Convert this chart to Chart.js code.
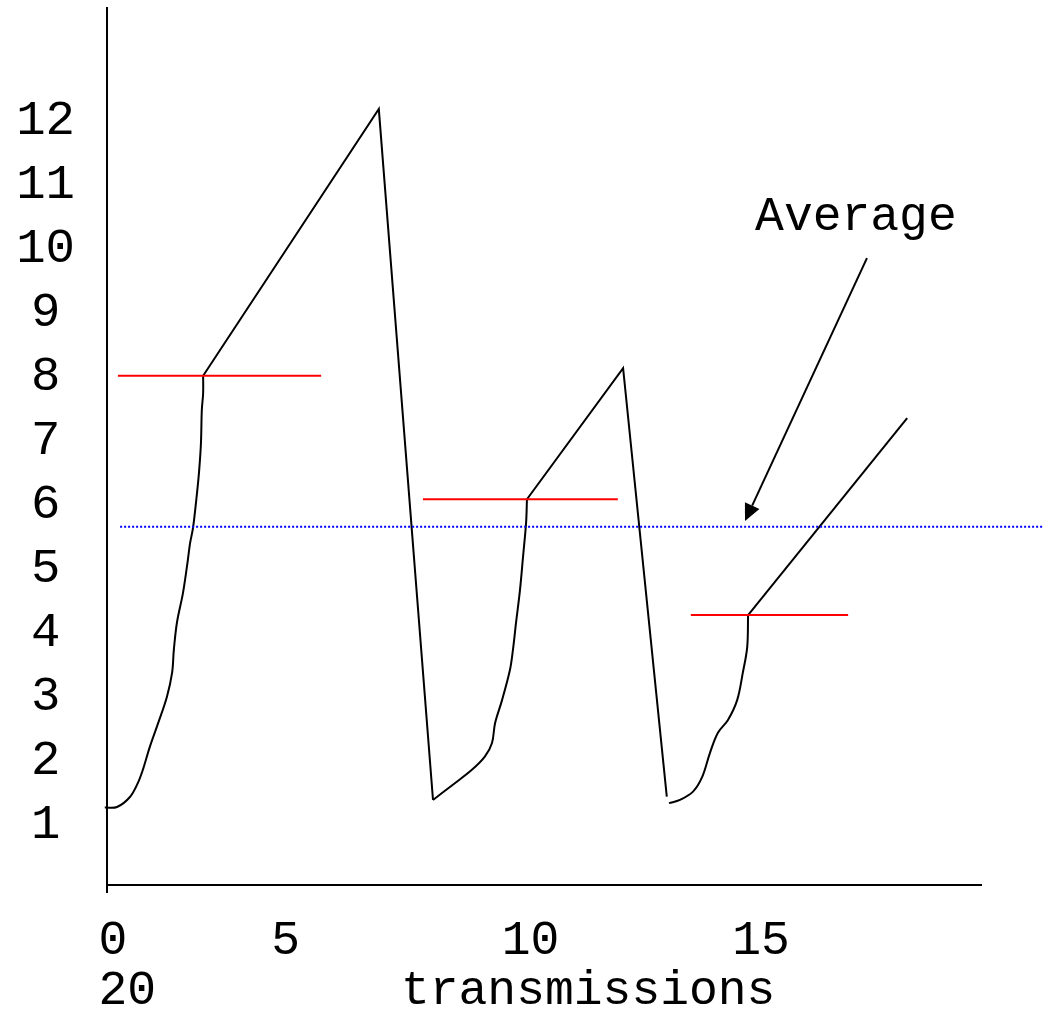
<!DOCTYPE html>
<html>
<head>
<meta charset="utf-8">
<title>TCP congestion window</title>
<script src="https://cdn.jsdelivr.net/npm/chart.js@4/dist/chart.umd.min.js"></script>
<style>
  html, body { margin: 0; padding: 0; background: #ffffff; }
  #wrap { width: 1046px; height: 1010px; }
</style>
</head>
<body>
<div id="wrap"><canvas id="cwnd" width="1046" height="1010"></canvas></div>
<script>
// Congestion window (segments) against transmission rounds.
const yTicks = [1, 2, 3, 4, 5, 6, 7, 8, 9, 10, 11, 12];

// Slow-start phases (exponential growth up to the threshold)
const slowStart1 = [
  [-0.05, 1.25], [0.23, 1.26], [0.53, 1.42], [0.71, 1.64], [0.82, 1.84],
  [0.98, 2.20], [1.17, 2.57], [1.37, 2.98], [1.49, 3.36], [1.53, 3.72],
  [1.60, 4.14], [1.74, 4.61], [1.85, 5.12], [1.90, 5.38], [1.97, 5.63],
  [2.06, 6.17], [2.11, 6.53], [2.15, 6.95], [2.17, 7.47], [2.20, 7.73],
  [2.20, 8.00]
];
const slowStart2 = [
  [7.46, 1.37], [7.90, 1.60], [8.35, 1.84], [8.65, 2.05], [8.81, 2.26],
  [8.88, 2.57], [9.04, 2.93], [9.22, 3.40], [9.29, 3.72], [9.36, 4.14],
  [9.45, 4.65], [9.52, 5.17], [9.59, 5.70], [9.61, 6.07]
];
const slowStart3 = [
  [12.86, 1.32], [13.11, 1.37], [13.41, 1.50], [13.62, 1.73], [13.80, 2.11],
  [13.98, 2.42], [14.21, 2.62], [14.42, 2.93], [14.55, 3.36], [14.65, 3.76],
  [14.67, 4.26]
];

// Congestion avoidance (linear growth) and the drop after each loss
const avoidance1 = [[2.20, 8.00], [6.22, 12.17], [7.46, 1.37]];
const avoidance2 = [[9.61, 6.07], [11.81, 8.12], [12.81, 1.42]];
const avoidance3 = [[14.67, 4.26], [18.31, 7.34]];

// Slow-start thresholds
const threshold1 = [[0.25, 8.00], [4.90, 8.00]];
const threshold2 = [[7.23, 6.07], [11.69, 6.07]];
const threshold3 = [[13.36, 4.26], [16.96, 4.26]];

// Average window size
const averageLine = [[0.30, 5.64], [21.42, 5.64]];

// Callout: label and arrow pointing at the average line
const averageLabel = 'Average';
const averageLabelAt = [14.83, 10.28];
const arrowFrom = [17.39, 9.84];
const arrowTo = [14.60, 5.73];

// Caption words under the horizontal axis
const captionRow1 = ['0', '5', '10', '15'];
const captionRow2 = ['20', 'transmissions'];

const FONT = '"Liberation Mono", "DejaVu Sans Mono", monospace';

const toXY = arr => arr.map(([x, y]) => ({ x, y }));

function curve(data) {
  return {
    data: toXY(data), borderColor: '#000000', borderWidth: 2,
    pointRadius: 0, tension: 0.35, clip: false
  };
}
function straight(data, color, dash) {
  return {
    data: toXY(data), borderColor: color, borderWidth: 2,
    pointRadius: 0, tension: 0, clip: false, borderDash: dash || []
  };
}

const calloutPlugin = {
  id: 'callout',
  afterDatasetsDraw(chart) {
    const { ctx, scales: { x, y } } = chart;
    ctx.save();
    // label
    ctx.fillStyle = '#000000';
    ctx.font = '48px ' + FONT;
    ctx.textAlign = 'left';
    ctx.textBaseline = 'alphabetic';
    ctx.fillText(averageLabel, x.getPixelForValue(averageLabelAt[0]), y.getPixelForValue(averageLabelAt[1]));
    // arrow shaft and head
    const x0 = x.getPixelForValue(arrowFrom[0]), y0 = y.getPixelForValue(arrowFrom[1]);
    const x1 = x.getPixelForValue(arrowTo[0]), y1 = y.getPixelForValue(arrowTo[1]);
    const ang = Math.atan2(y1 - y0, x1 - x0);
    const headLen = 17, headHalf = 8;
    const bx = x1 - headLen * Math.cos(ang), by = y1 - headLen * Math.sin(ang);
    ctx.strokeStyle = '#000000';
    ctx.lineWidth = 2;
    ctx.beginPath();
    ctx.moveTo(x0, y0);
    ctx.lineTo(bx, by);
    ctx.stroke();
    ctx.beginPath();
    ctx.moveTo(x1, y1);
    ctx.lineTo(bx + headHalf * Math.sin(ang), by - headHalf * Math.cos(ang));
    ctx.lineTo(bx - headHalf * Math.sin(ang), by + headHalf * Math.cos(ang));
    ctx.closePath();
    ctx.fill();
    ctx.restore();
  }
};

// Caption text set in monospaced columns below the axis
const captionPlugin = {
  id: 'caption',
  afterDraw(chart) {
    const { ctx, chartArea } = chart;
    ctx.save();
    ctx.fillStyle = '#000000';
    ctx.font = '48px ' + FONT;
    ctx.textAlign = 'left';
    ctx.textBaseline = 'alphabetic';
    const advance = ctx.measureText('0').width;
    const originX = chartArea.left - 8.5;
    const rows = [
      { words: captionRow1, cols: [0, 6, 14, 22], dy: 69 },
      { words: captionRow2, cols: [0, 10.5], dy: 119 }
    ];
    rows.forEach(row => {
      row.words.forEach((w, i) => {
        ctx.fillText(w, originX + row.cols[i] * advance, chartArea.bottom + row.dy);
      });
    });
    ctx.restore();
  }
};

new Chart(document.getElementById('cwnd'), {
  type: 'line',
  data: {
    datasets: [
      straight(averageLine, '#0000ff', [2, 2]),
      straight(threshold1, '#ff0000'),
      straight(threshold2, '#ff0000'),
      straight(threshold3, '#ff0000'),
      curve(slowStart1),
      curve(slowStart2),
      curve(slowStart3),
      straight(avoidance1, '#000000'),
      straight(avoidance2, '#000000'),
      straight(avoidance3, '#000000')
    ]
  },
  options: {
    responsive: false,
    animation: false,
    events: [],
    layout: { padding: { top: 8, right: 65, left: 0, bottom: 0 } },
    plugins: { legend: { display: false }, tooltip: { enabled: false } },
    scales: {
      x: {
        type: 'linear',
        min: 0,
        max: 20,
        afterFit(scale) { scale.height = 125; scale.paddingLeft = 0; scale.paddingRight = 0; },
        afterBuildTicks(scale) { scale.ticks = [{ value: 0 }]; },
        ticks: { display: false },
        grid: { display: true, drawOnChartArea: false, drawTicks: true, tickLength: 8, color: '#000000', lineWidth: 2 },
        border: { display: true, color: '#000000', width: 2 }
      },
      y: {
        type: 'linear',
        min: 0.04,
        max: 13.75,
        afterFit(scale) { scale.width = 107; scale.paddingTop = 0; scale.paddingBottom = 0; },
        afterBuildTicks(scale) { scale.ticks = yTicks.map(v => ({ value: v })); },
        ticks: {
          color: '#000000',
          font: { family: FONT, size: 49 },
          padding: 32,
          crossAlign: 'center',
          labelOffset: 1.5,
          callback: v => String(v)
        },
        grid: { display: false, drawTicks: false },
        border: { display: true, color: '#000000', width: 2 }
      }
    }
  },
  plugins: [calloutPlugin, captionPlugin]
});
</script>
</body>
</html>
